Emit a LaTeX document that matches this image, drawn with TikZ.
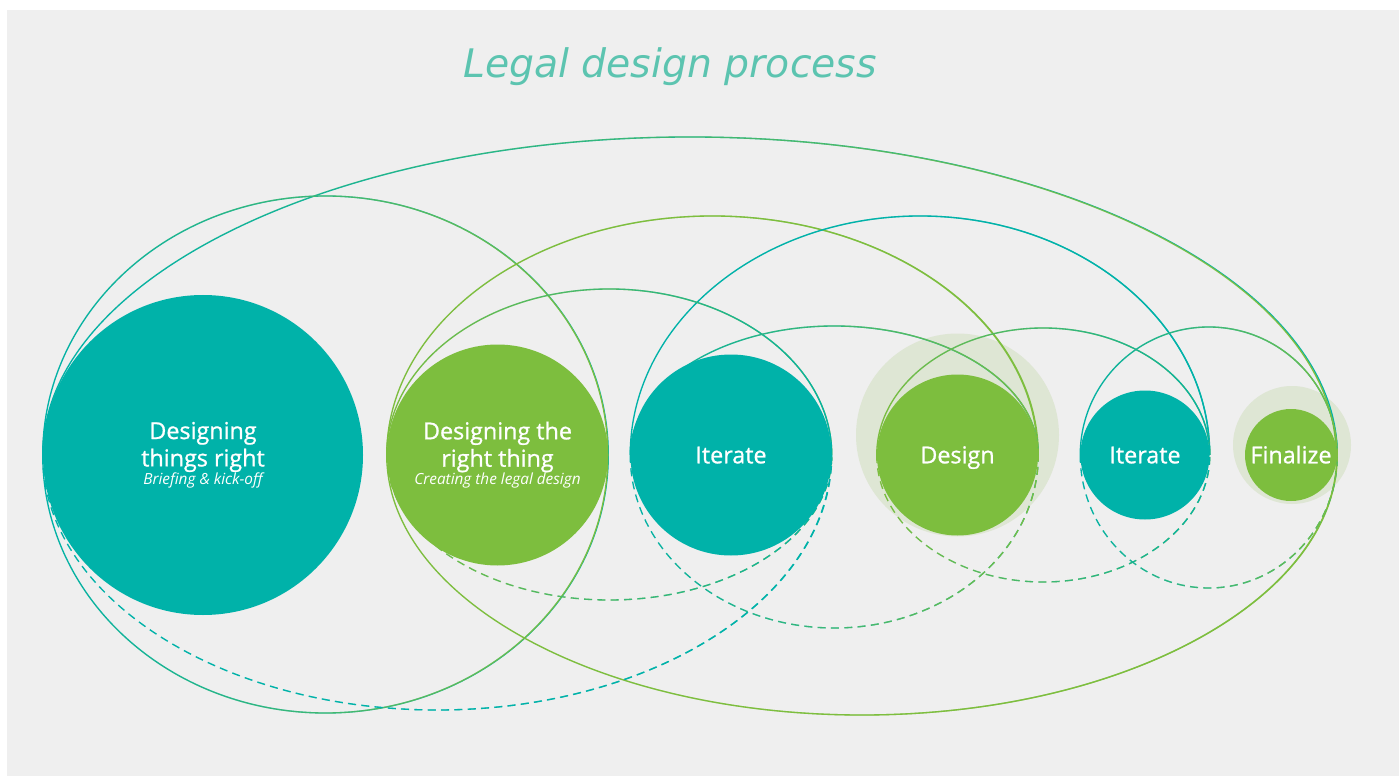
\documentclass[tikz,border=0pt]{standalone}
\usepackage{fontspec}
\setmainfont{Open Sans}
\newfontfamily\blobfont{Open Sans}[FakeBold=0.9]
\newfontfamily\titlefont{DejaVu Sans}
\usetikzlibrary{calc,fadings}

\definecolor{lgteal}{RGB}{0,178,169}
\definecolor{lggreen}{RGB}{125,190,62}
\definecolor{lghalo}{RGB}{222,230,212}
\definecolor{lgback}{RGB}{239,239,239}
\definecolor{lgtitle}{RGB}{92,196,176}

\tikzfading[name=towardseast, left color=transparent!100, right color=transparent!0]

\pgfdeclarelayer{back}
\pgfdeclarelayer{links}
\pgfsetlayers{back,links,main}

\tikzset{
  blob/.style={circle, inner sep=0pt, minimum size={#1*0.75pt}, text=white, align=center,
    font=\blobfont\fontsize{17.5}{20.5}\selectfont},
  oneline/.style={text height=12.5pt, text depth=0pt},
  halo/.style={circle, inner sep=0pt, minimum size={#1*0.75pt}, fill=lghalo},
  link/.style={line width=1pt},
  dashlink/.style={link, dash pattern=on 6pt off 4pt},
}

\newcommand{\subline}[1]{\\[-7pt]{\setmainfont{Open Sans}\fontsize{11.5}{13}\selectfont\itshape #1}}

% half ellipse from the west side of #2 to the east side of #3,
% colour running from #6 to #7
\newcommand{\bridge}[7]{%
  \draw[#1, #6] let \p1=(#2.west), \p2=(#3.east) in
    (\p1) arc[start angle=180, end angle=#4, x radius={(\x2-\x1)/2}, y radius={#5*0.75pt}];
  \draw[#1, #7, path fading=towardseast] let \p1=(#2.west), \p2=(#3.east) in
    (\p1) arc[start angle=180, end angle=#4, x radius={(\x2-\x1)/2}, y radius={#5*0.75pt}];
}

\begin{document}
\begin{tikzpicture}[x=0.75pt, y=0.75pt]
\useasboundingbox (0,0) rectangle (1399,776);

\begin{pgfonlayer}{back}
  \fill[white] (0,0) rectangle (1399,776);
  \fill[lgback] (7,0) rectangle (1399,766);
  \node[halo=203] (designhalo) at (957.5,341) {};
  \node[halo=118] (finalhalo) at (1292,331) {};
\end{pgfonlayer}

\node[font=\titlefont\itshape\fontsize{29.5}{34}\selectfont, text=lgtitle] (title) at (670,709) {Legal design process};

\node[blob=320, fill=lgteal] (drt) at (203,321) {Designing\\things right\subline{Briefing \& kick-off}};
\node[blob=221, fill=lggreen] (trt) at (497.5,321) {Designing the\\right thing\subline{Creating the legal design}};
\node[blob=201, fill=lgteal, oneline] (iter1) at (731,321) {Iterate};
\node[blob=161, fill=lggreen, oneline] (design) at (957.5,321) {Design};
\node[blob=129, fill=lgteal, oneline] (iter2) at (1145,321) {Iterate};
\node[blob=92, fill=lggreen, oneline] (final) at (1291,321) {Finalize};

\begin{pgfonlayer}{links}
  % arcs above the row
  \bridge{link}{drt}{final}{0}{318}{lgteal}{lggreen}
  \bridge{link}{drt}{trt}{0}{259}{lgteal}{lggreen}
  \bridge{link}{trt}{design}{0}{239}{lggreen}{lggreen}
  \bridge{link}{iter1}{iter2}{0}{239}{lgteal}{lgteal}
  \bridge{link}{trt}{iter1}{0}{166}{lggreen}{lgteal}
  \bridge{link}{iter1}{design}{0}{129}{lgteal}{lggreen}
  \bridge{link}{design}{iter2}{0}{127}{lggreen}{lgteal}
  \bridge{link}{iter2}{final}{0}{128}{lgteal}{lggreen}
  % arcs below the row
  \bridge{link}{drt}{trt}{360}{258}{lgteal}{lggreen}
  \bridge{link}{trt}{final}{360}{260}{lggreen}{lggreen}
  \bridge{dashlink}{drt}{iter1}{360}{255}{lgteal}{lgteal}
  \bridge{dashlink}{trt}{iter1}{360}{145}{lggreen}{lgteal}
  \bridge{dashlink}{iter1}{design}{360}{173}{lgteal}{lggreen}
  \bridge{dashlink}{design}{iter2}{360}{127}{lggreen}{lgteal}
  \bridge{dashlink}{iter2}{final}{360}{133}{lgteal}{lggreen}
\end{pgfonlayer}
\end{tikzpicture}
\end{document}
